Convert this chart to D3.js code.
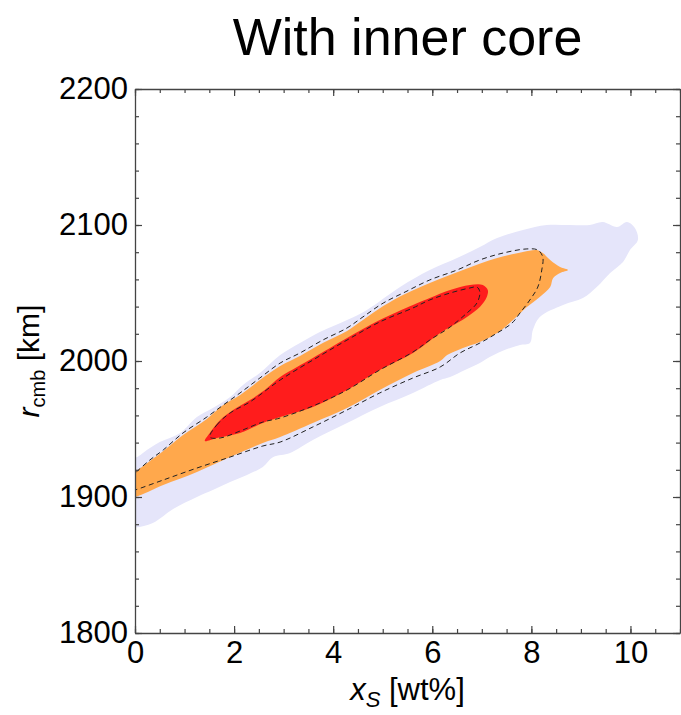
<!DOCTYPE html>
<html>
<head>
<meta charset="utf-8">
<script src="https://cdn.jsdelivr.net/npm/d3@7"></script>
<style>
  body { margin: 0; background: #fff; }
  svg text { font-family: 'Liberation Sans', Arial, Helvetica, sans-serif; fill: #000; }
</style>
</head>
<body>
<svg id="chart"></svg>
<script>
const title = 'With inner core';
const xMajorTicks = [0, 2, 4, 6, 8, 10];
const yMajorTicks = [1800, 1900, 2000, 2100, 2200];
const xMinorTicks = d3.range(0, 11.01, 0.5);
const yMinorTicks = d3.range(1800, 2200.1, 20);

// region outlines, [xS wt%, rcmb km]
const outerRegion = [
  [0, 1928.7], [0.24, 1934.6], [0.50, 1940.4], [0.91, 1947.1], [1.25, 1958.8], [1.57, 1965.4],
  [1.92, 1973.5], [2.18, 1982.4], [2.52, 1991.2], [2.93, 2004.4], [3.33, 2013.2], [3.73, 2021.3],
  [4.28, 2030.1], [4.68, 2037.5], [5.35, 2054.4], [5.95, 2066.9], [6.50, 2075.7], [6.96, 2083.8],
  [7.31, 2090.4], [7.83, 2096.3], [8.31, 2100.0], [8.78, 2100.0], [9.18, 2100.0], [9.44, 2102.2],
  [9.73, 2098.5], [9.93, 2102.2], [10.09, 2097.8], [10.15, 2089.0], [9.99, 2081.6], [9.85, 2072.8],
  [9.59, 2064.7], [9.32, 2054.4], [9.04, 2046.3], [8.64, 2041.2], [8.17, 2032.4], [8.03, 2022.8],
  [7.97, 2013.2], [7.77, 2011.8], [7.51, 2008.8], [7.16, 2002.9], [6.96, 1998.5], [6.66, 1993.4],
  [6.36, 1988.2], [6.16, 1986.0], [5.61, 1976.5], [4.94, 1966.2], [4.28, 1954.4], [3.59, 1941.9],
  [3.13, 1932.4], [2.79, 1929.4], [2.58, 1922.1], [2.26, 1916.2], [1.92, 1911.0], [1.57, 1905.1],
  [1.25, 1900.0], [0.77, 1891.2], [0.36, 1880.9], [0, 1877.5], [-0.3, 1877.5], [-0.3, 1928.7]
];

const midRegion = [
  [0, 1919.1], [0.30, 1926.5], [0.57, 1933.8], [0.97, 1945.6], [1.45, 1957.4], [1.78, 1967.6],
  [2.12, 1975.0], [2.52, 1986.0], [2.93, 1996.3], [3.33, 2003.7], [3.79, 2013.2], [4.28, 2022.1],
  [4.60, 2030.1], [5.01, 2040.4], [5.45, 2049.3], [5.95, 2057.4], [6.62, 2066.9], [7.31, 2075.7],
  [7.83, 2080.2], [8.11, 2081.6], [8.23, 2079.4], [8.38, 2074.3], [8.58, 2069.1], [8.74, 2066.9],
  [8.58, 2064.7], [8.44, 2061.0], [8.38, 2054.4], [8.17, 2047.1], [7.91, 2039.7], [7.63, 2030.1],
  [7.31, 2020.6], [6.96, 2014.0], [6.62, 2009.6], [6.30, 2004.4], [6.16, 2000.0], [5.61, 1991.2],
  [4.94, 1978.7], [4.28, 1965.4], [3.59, 1954.4], [2.93, 1944.1], [2.58, 1939.7], [1.92, 1929.4],
  [1.25, 1918.4], [0.57, 1908.8], [0, 1900.0], [-0.3, 1899.0], [-0.3, 1918.0]
];

const innerRegion = [
  [1.41, 1941.2], [1.51, 1947.1], [1.72, 1956.6], [1.98, 1964.0], [2.32, 1971.3], [2.62, 1978.7],
  [2.93, 1988.2], [3.27, 1995.6], [3.59, 2002.2], [4.28, 2016.9], [4.94, 2030.1], [5.61, 2041.2],
  [5.95, 2046.3], [6.36, 2052.2], [6.76, 2055.9], [7.02, 2055.9], [7.12, 2052.2], [7.10, 2047.1],
  [6.96, 2039.7], [6.70, 2032.4], [6.36, 2025.0], [6.16, 2020.6], [5.61, 2005.9], [4.94, 1993.4],
  [4.28, 1978.7], [3.59, 1966.2], [2.93, 1958.8], [2.58, 1954.4], [2.12, 1947.1], [1.65, 1943.4]
];

const midContour = [
  [-0.1, 1914.5], [0, 1917.6], [0.30, 1927.2], [0.57, 1934.6], [0.97, 1947.1], [1.45, 1958.8],
  [1.78, 1967.6], [2.12, 1976.5], [2.52, 1987.5], [2.93, 1998.5], [3.33, 2005.9], [3.79, 2015.4],
  [4.28, 2024.3], [4.60, 2032.4], [5.01, 2042.6], [5.45, 2050.7], [5.95, 2059.6], [6.50, 2066.9],
  [6.96, 2074.3], [7.43, 2079.4], [7.91, 2082.4], [8.13, 2081.6], [8.23, 2076.5], [8.21, 2066.9],
  [8.13, 2054.4], [7.97, 2044.9], [7.77, 2035.3], [7.61, 2027.9], [7.31, 2020.6], [6.96, 2013.2],
  [6.56, 2005.9], [6.16, 1995.6], [5.61, 1987.5], [4.94, 1976.5], [4.28, 1964.0], [3.59, 1951.5],
  [2.93, 1940.4], [2.58, 1937.5], [1.92, 1929.4], [1.25, 1921.3], [0.57, 1912.5], [0, 1905.1],
  [-0.1, 1904.0]
];

const innerContour = [
  [1.51, 1944.1], [1.65, 1952.9], [1.92, 1961.8], [2.32, 1969.9], [2.93, 1986.0], [3.59, 2000.7],
  [4.28, 2015.4], [4.94, 2028.7], [5.61, 2039.0], [5.95, 2044.9], [6.36, 2050.0], [6.76, 2053.7],
  [6.90, 2054.4], [6.96, 2050.7], [6.90, 2042.6], [6.70, 2035.3], [6.36, 2025.0], [5.95, 2015.4],
  [5.61, 2006.6], [4.94, 1993.4], [4.28, 1978.7], [3.59, 1966.9], [2.93, 1958.1], [2.58, 1955.1],
  [2.12, 1948.5], [1.72, 1943.4]
];

const width = 681;
const height = 715;
const plot = { left: 135, right: 680, top: 89, bottom: 633 };

const svg = d3.select('#chart')
  .attr('width', width)
  .attr('height', height);

const x = d3.scaleLinear().domain([0, 11]).range([plot.left, plot.right]);
const y = d3.scaleLinear().domain([1800, 2200]).range([plot.bottom, plot.top]);

svg.append('clipPath')
  .attr('id', 'plot-clip')
  .append('rect')
  .attr('x', plot.left)
  .attr('y', plot.top)
  .attr('width', plot.right - plot.left)
  .attr('height', plot.bottom - plot.top);

const area = svg.append('g').attr('clip-path', 'url(#plot-clip)');

const closedLine = d3.line()
  .x(d => x(d[0]))
  .y(d => y(d[1]))
  .curve(d3.curveCatmullRomClosed.alpha(0.5));

const openLine = d3.line()
  .x(d => x(d[0]))
  .y(d => y(d[1]))
  .curve(d3.curveCatmullRom.alpha(0.5));

area.append('path').attr('d', closedLine(outerRegion)).attr('fill', '#e5e5fa');
area.append('path').attr('d', closedLine(midRegion)).attr('fill', '#ffa84c');
area.append('path').attr('d', closedLine(innerRegion)).attr('fill', '#ff1c1c');

area.append('path')
  .attr('d', openLine(midContour))
  .attr('fill', 'none')
  .attr('stroke', '#222')
  .attr('stroke-width', 1)
  .attr('stroke-dasharray', '5,3.5');

area.append('path')
  .attr('d', closedLine(innerContour))
  .attr('fill', 'none')
  .attr('stroke', '#222')
  .attr('stroke-width', 1)
  .attr('stroke-dasharray', '5,3.5');

// axes: ticks pointing inward on all four sides
function drawAxis(axisFn, scale, translate, minor, major, labels, padding) {
  const gMinor = svg.append('g')
    .attr('transform', translate)
    .call(axisFn(scale).tickValues(minor).tickSizeInner(-4).tickSizeOuter(0).tickFormat(''));
  gMinor.select('.domain').remove();

  const g = svg.append('g')
    .attr('transform', translate)
    .call(axisFn(scale).tickValues(major).tickSizeInner(-7).tickSizeOuter(0)
      .tickPadding(padding).tickFormat(labels ? d3.format('d') : ''));
  g.selectAll('text').attr('font-size', 31).attr('fill', '#000');
  svg.selectAll('.tick line').attr('stroke', '#444').attr('stroke-width', 1.2);
  g.select('.domain').attr('stroke', '#444').attr('stroke-width', 1.3);
}

drawAxis(d3.axisBottom, x, `translate(0,${plot.bottom})`, xMinorTicks, xMajorTicks, true, 8);
drawAxis(d3.axisTop, x, `translate(0,${plot.top})`, xMinorTicks, xMajorTicks, false, 0);
drawAxis(d3.axisLeft, y, `translate(${plot.left},0)`, yMinorTicks, yMajorTicks, true, 7);
drawAxis(d3.axisRight, y, `translate(${plot.right},0)`, yMinorTicks, yMajorTicks, false, 0);

svg.selectAll('.tick text').attr('font-family', "'Liberation Sans', Arial, Helvetica, sans-serif");

// title
svg.append('text')
  .attr('x', (plot.left + plot.right) / 2)
  .attr('y', 55)
  .attr('text-anchor', 'middle')
  .attr('font-size', 52)
  .text(title);

// x label
const xLabel = svg.append('text')
  .attr('x', (plot.left + plot.right) / 2)
  .attr('y', 700)
  .attr('text-anchor', 'middle')
  .attr('font-size', 31);
xLabel.append('tspan').attr('font-style', 'italic').text('x');
xLabel.append('tspan').attr('font-style', 'italic').attr('font-size', 22).attr('dy', 7).text('S');
xLabel.append('tspan').attr('dy', -7).text(' [wt%]');

// y label
const yLabel = svg.append('text')
  .attr('transform', `translate(39,${(plot.top + plot.bottom) / 2}) rotate(-90)`)
  .attr('text-anchor', 'middle')
  .attr('font-size', 30);
yLabel.append('tspan').attr('font-style', 'italic').text('r');
yLabel.append('tspan').attr('font-size', 20).attr('dy', 6).text('cmb');
yLabel.append('tspan').attr('dy', -6).text(' [km]');
</script>
</body>
</html>
